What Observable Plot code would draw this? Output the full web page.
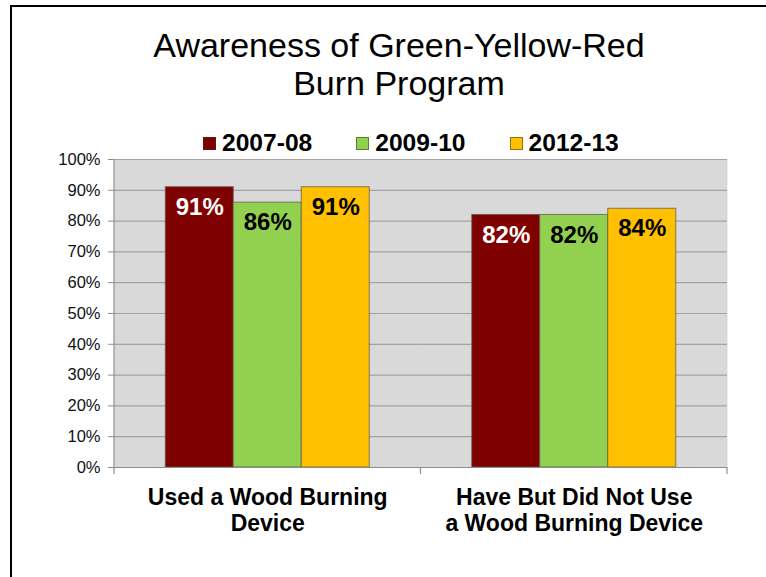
<!DOCTYPE html>
<html>
<head>
<meta charset="utf-8">
<script src="https://cdn.jsdelivr.net/npm/d3@7"></script>
<script src="https://cdn.jsdelivr.net/npm/@observablehq/plot@0.6"></script>
<style>
  body { margin: 0; background: #fff; font-family: "Liberation Sans", Arial, sans-serif; }
  #wrap { position: relative; width: 766px; height: 577px; overflow: hidden; }
  #wrap svg { position: absolute; left: 0; top: 0; }
  #border { position: absolute; left: 10px; top: 5px; width: 800px; height: 700px;
            border-left: 2px solid #000; border-top: 2px solid #000; }
  #title { position: absolute; left: 0; width: 798px; top: 26px; text-align: center;
           font-size: 34px; line-height: 38px; color: #000; }
  #legend { position: absolute; left: 203px; top: 131px; display: flex; align-items: center;
            font-size: 24.6px; line-height: 24px; font-weight: bold; color: #000; }
  #legend .item { display: flex; align-items: center; margin-right: 44px; }
  #legend .item:last-child { margin-right: 0; }
  #legend .sw { width: 13px; height: 13px; box-sizing: border-box; margin-right: 6px;
                border: 1px solid rgba(60, 50, 30, 0.55); }
</style>
</head>
<body>
<div id="wrap">
  <div id="border"></div>
  <div id="title">Awareness of Green-Yellow-Red<br>Burn Program</div>
  <div id="legend"></div>
</div>
<script>
// Survey groups (two-line axis labels)
const categories = [
  "Used a Wood Burning\nDevice",
  "Have But Did Not Use\na Wood Burning Device"
];
// Survey seasons
const seasons = ["2007-08", "2009-10", "2012-13"];
// Share aware of the program, per season
const usedDevice = [0.91, 0.86, 0.91];
const hadNotUsed = [0.82, 0.82, 0.84];
// Percent axis ticks
const yTicks = [0, 0.1, 0.2, 0.3, 0.4, 0.5, 0.6, 0.7, 0.8, 0.9, 1.0];
// Season colours
const seasonColors = ["#7f0000", "#92d050", "#ffc000"];

const seriesByCategory = [usedDevice, hadNotUsed];
const rows = categories.flatMap((category, i) =>
  seasons.map((season, j) => ({category, season, value: seriesByCategory[i][j]}))
);
const pct = (v) => Math.round(v * 100) + "%";

// Legend
const legend = document.getElementById("legend");
seasons.forEach((s, i) => {
  const item = document.createElement("div");
  item.className = "item";
  const sw = document.createElement("span");
  sw.className = "sw";
  sw.style.background = seasonColors[i];
  const label = document.createElement("span");
  label.textContent = s;
  item.append(sw, label);
  legend.append(item);
});

const font = "'Liberation Sans', Arial, sans-serif";
const axisGray = "#8c8c8c";

const chart = Plot.plot({
  width: 766,
  height: 577,
  marginTop: 159,
  marginBottom: 110,
  marginLeft: 114,
  marginRight: 39,
  style: {fontFamily: font, background: "transparent", overflow: "visible", color: "#000"},
  fx: {domain: categories, paddingInner: 0, paddingOuter: 0, round: false, label: null, axis: null},
  x: {domain: seasons, paddingInner: 0, paddingOuter: 0.754, round: false, axis: null},
  y: {domain: [0, 1], axis: null},
  color: {domain: seasons, range: seasonColors},
  marks: [
    Plot.frame({fill: "#d9d9d9"}),
    Plot.gridY(yTicks, {stroke: "#a2a2a2", strokeOpacity: 1, strokeWidth: 1.2}),
    Plot.barY(rows, {
      fx: "category", x: "season", y: "value", fill: "season",
      stroke: "#5f5a4a", strokeOpacity: 0.75, strokeWidth: 1
    }),
    Plot.text(rows.filter((d) => d.season === seasons[0]), {
      fx: "category", x: "season", y: "value", text: (d) => pct(d.value),
      dy: 20, fontSize: 24, fontWeight: "bold", fill: "#fff"
    }),
    Plot.text(rows.filter((d) => d.season !== seasons[0]), {
      fx: "category", x: "season", y: "value", text: (d) => pct(d.value),
      dy: 20, fontSize: 24, fontWeight: "bold", fill: "#000"
    }),
    Plot.ruleY([0], {stroke: axisGray, strokeWidth: 1.2}),
    Plot.axisY(yTicks, {
      tickFormat: pct, tickSize: 6, tickPadding: 8, fontSize: 16.5,
      stroke: axisGray, fill: "#111", label: null
    }),
    Plot.axisFx({
      anchor: "bottom", tickSize: 0, tickPadding: 20, fontSize: 23,
      fontWeight: "bold", lineHeight: 1.1, label: null, fill: "#000"
    })
  ]
});

document.getElementById("wrap").append(chart);

// Value-axis line and category boundary ticks, placed with the chart's own scales
const fx = chart.scale("fx");
const y = chart.scale("y");
const y0 = y.apply(0), y1 = y.apply(1);
const edges = fx.domain.map((d) => fx.apply(d));
edges.push(fx.apply(fx.domain[fx.domain.length - 1]) + fx.bandwidth);
const g = d3.select(chart).append("g").attr("stroke", axisGray).attr("stroke-width", 1.2);
g.append("line").attr("x1", edges[0]).attr("x2", edges[0]).attr("y1", y1).attr("y2", y0);
g.selectAll(".edge").data(edges).join("line")
  .attr("x1", (d) => d).attr("x2", (d) => d)
  .attr("y1", y0).attr("y2", y0 + 7);
</script>
</body>
</html>
